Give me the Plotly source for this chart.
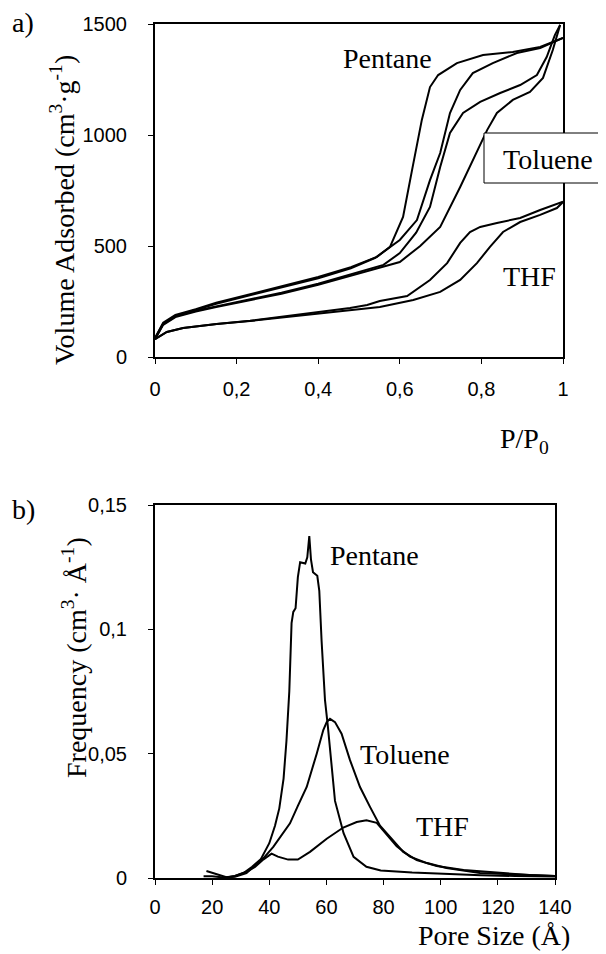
import plotly.graph_objects as go

# a) isotherms, P/P0 vs volume adsorbed (cm3/g)
pentane_ads_x = [0.0, 0.02, 0.05, 0.1, 0.15, 0.23, 0.31, 0.4, 0.48, 0.54, 0.6, 0.642, 0.674, 0.699, 0.723, 0.748, 0.779, 0.828, 0.887, 0.944, 1.0]
pentane_ads_y = [85, 150, 185, 212, 240, 277, 313, 355, 400, 447, 527, 617, 797, 919, 1099, 1203, 1279, 1324, 1369, 1392, 1437]
pentane_des_x = [0.0, 0.02, 0.05, 0.1, 0.15, 0.23, 0.31, 0.4, 0.48, 0.544, 0.576, 0.608, 0.63, 0.654, 0.674, 0.694, 0.74, 0.804, 0.877, 0.944, 1.0]
pentane_des_y = [85, 155, 190, 215, 244, 281, 318, 360, 405, 451, 496, 631, 842, 1068, 1216, 1270, 1324, 1360, 1374, 1397, 1437]

toluene_ads_x = [0.0, 0.02, 0.05, 0.1, 0.15, 0.23, 0.31, 0.4, 0.48, 0.56, 0.6, 0.65, 0.699, 0.748, 0.779, 0.814, 0.838, 0.877, 0.919, 0.951, 0.975, 0.993]
toluene_ads_y = [80, 145, 180, 205, 225, 255, 285, 325, 367, 410, 428, 500, 586, 766, 887, 1022, 1099, 1158, 1194, 1257, 1383, 1496]
toluene_des_x = [0.0, 0.02, 0.05, 0.1, 0.15, 0.23, 0.31, 0.4, 0.48, 0.56, 0.6, 0.64, 0.674, 0.699, 0.723, 0.755, 0.797, 0.846, 0.895, 0.936, 0.96, 0.98, 0.993]
toluene_des_y = [80, 148, 183, 208, 228, 258, 289, 330, 372, 415, 468, 560, 676, 856, 1009, 1099, 1149, 1189, 1225, 1270, 1351, 1450, 1496]

thf_ads_x = [0.0, 0.029, 0.069, 0.151, 0.233, 0.314, 0.397, 0.478, 0.551, 0.633, 0.699, 0.748, 0.789, 0.821, 0.853, 0.895, 0.944, 0.985, 1.0]
thf_ads_y = [80, 113, 131, 149, 162, 178, 195, 212, 225, 257, 293, 347, 423, 496, 563, 608, 640, 671, 698]
thf_des_x = [0.0, 0.029, 0.069, 0.151, 0.233, 0.314, 0.397, 0.478, 0.52, 0.551, 0.618, 0.674, 0.716, 0.748, 0.772, 0.797, 0.838, 0.895, 0.944, 0.993, 1.0]
thf_des_y = [80, 113, 131, 149, 163, 182, 200, 221, 234, 252, 275, 347, 423, 514, 563, 586, 604, 626, 662, 698, 700]

# b) pore size distributions
pentane_psd_x = [18, 21, 25, 28, 31, 34, 37, 40, 42, 43.5, 45, 46, 47, 47.8, 48.4, 49.2, 50, 50.8, 52, 52.6, 53.3, 54, 54.6, 55.3, 56.8, 57.5, 58.3, 59.5, 60.5, 61.5, 63, 66, 69.5, 74, 79, 90, 102, 114, 126, 140]
pentane_psd_y = [0.0028, 0.0016, 0.0003, 0.0008, 0.002, 0.0045, 0.0075, 0.014, 0.021, 0.028, 0.040, 0.055, 0.075, 0.1025, 0.107, 0.1085, 0.121, 0.127, 0.1265, 0.1265, 0.129, 0.1375, 0.128, 0.123, 0.1215, 0.1155, 0.0955, 0.0715, 0.061, 0.048, 0.031, 0.018, 0.0085, 0.0045, 0.003, 0.0022, 0.0015, 0.0011, 0.0008, 0.0006]
toluene_psd_x = [17, 20, 24, 28, 32, 35.6, 38, 41.4, 44, 47.25, 50, 53.1, 56.6, 58.9, 60.1, 61.25, 63, 65.3, 68.25, 71.75, 75.25, 78.75, 82.25, 86.9, 91.6, 98.6, 108, 120, 131, 140]
toluene_psd_y = [0.0007, 0.0007, 0.0002, 0.0005, 0.002, 0.0055, 0.008, 0.0125, 0.0165, 0.022, 0.029, 0.0366, 0.05, 0.0595, 0.0627, 0.064, 0.0627, 0.058, 0.0474, 0.0366, 0.0286, 0.021, 0.0165, 0.0105, 0.0072, 0.0048, 0.0032, 0.002, 0.0012, 0.0008]
thf_psd_x = [24, 28, 32, 35, 38, 40.8, 43, 46.6, 50, 54.25, 60.1, 65.9, 70.6, 74, 77.6, 79.9, 84.6, 89.25, 95.2, 102, 113.75, 131, 140]
thf_psd_y = [0.0, 0.0008, 0.0025, 0.0045, 0.0075, 0.0098, 0.0086, 0.0074, 0.0074, 0.0105, 0.0158, 0.0203, 0.0225, 0.0232, 0.0222, 0.019, 0.0128, 0.0086, 0.006, 0.004, 0.002, 0.0012, 0.0008]

x1_ticks = [0, 0.2, 0.4, 0.6, 0.8, 1]
x1_labels = ["0", "0,2", "0,4", "0,6", "0,8", "1"]
y1_ticks = [0, 500, 1000, 1500]
y1_labels = ["0", "500", "1000", "1500"]
x2_ticks = [0, 20, 40, 60, 80, 100, 120, 140]
x2_labels = ["0", "20", "40", "60", "80", "100", "120", "140"]
y2_ticks = [0, 0.05, 0.1, 0.15]
y2_labels = ["0", "0,05", "0,1", "0,15"]

W, H = 606, 954
OFF = 8  # the page body adds an 8 px margin, so pull everything back by that much
SERIF = "Liberation Serif"
SANS = "Liberation Sans"
line = dict(color="black", width=2)


def px(x):
    return (x - OFF) / W


def py(y):
    return 1 - (y - OFF) / H


fig = go.Figure()
for xs, ys in [(pentane_ads_x, pentane_ads_y), (pentane_des_x, pentane_des_y),
               (toluene_ads_x, toluene_ads_y), (toluene_des_x, toluene_des_y),
               (thf_ads_x, thf_ads_y), (thf_des_x, thf_des_y)]:
    fig.add_trace(go.Scatter(x=xs, y=ys, mode="lines", line=line, xaxis="x", yaxis="y", showlegend=False))
for xs, ys in [(pentane_psd_x, pentane_psd_y), (toluene_psd_x, toluene_psd_y), (thf_psd_x, thf_psd_y)]:
    fig.add_trace(go.Scatter(x=xs, y=ys, mode="lines", line=line, xaxis="x2", yaxis="y2", showlegend=False))

axis_common = dict(showline=True, linecolor="black", linewidth=2, mirror=True, showgrid=False, zeroline=False,
                   automargin=False, ticks="outside", ticklen=5, tickwidth=1, tickcolor="black",
                   tickfont=dict(family=SANS, size=20, color="black"))

fig.update_layout(
    width=W, height=H,
    margin=dict(l=0, r=0, t=0, b=0, autoexpand=False),
    paper_bgcolor="white", plot_bgcolor="white",
    xaxis=dict(domain=[px(155), px(563)], range=[0, 1], anchor="y", tickvals=x1_ticks, ticktext=x1_labels,
               ticklabelstandoff=8, **axis_common),
    yaxis=dict(domain=[py(357), py(24)], range=[0, 1500], anchor="x", tickvals=y1_ticks, ticktext=y1_labels,
               ticklabelstandoff=17, **axis_common),
    xaxis2=dict(domain=[px(155), px(555)], range=[0, 140], anchor="y2", tickvals=x2_ticks, ticktext=x2_labels,
                ticklabelstandoff=5, **axis_common),
    yaxis2=dict(domain=[py(878), py(505)], range=[0, 0.15], anchor="x2", tickvals=y2_ticks, ticktext=y2_labels,
                ticklabelstandoff=17, **axis_common),
)

# white box around the Toluene label, covering the right frame
fig.add_shape(type="rect", xref="paper", yref="paper", x0=px(484), x1=px(630), y0=py(183), y1=py(133),
              fillcolor="white", line=dict(color="black", width=1), layer="above")


def label(text, x, y, size=28, xanchor="center", yanchor="middle", angle=0):
    fig.add_annotation(text=text, xref="paper", yref="paper", x=px(x), y=py(y), showarrow=False,
                       xanchor=xanchor, yanchor=yanchor, textangle=angle,
                       font=dict(family=SERIF, size=size, color="black"))


label("a)", 10, 23, xanchor="left")
label("b)", 10, 510, xanchor="left")
label("Pentane", 387, 58)
label("Toluene", 548, 159)
label("THF", 529, 276)
label("P/P<sub>0</sub>", 551, 440, xanchor="right")
label("Volume Adsorbed (cm<sup>3</sup>·g<sup>-1</sup>)", 62, 210, angle=-90)
label("Pentane", 375, 555)
label("Toluene", 405, 754)
label("THF", 442, 826)
label("Pore Size (Å)", 572, 935, xanchor="right")
label("Frequency (cm<sup>3</sup>· Å<sup>-1</sup>)", 74, 658, angle=-90)

fig.write_html("out.html")
